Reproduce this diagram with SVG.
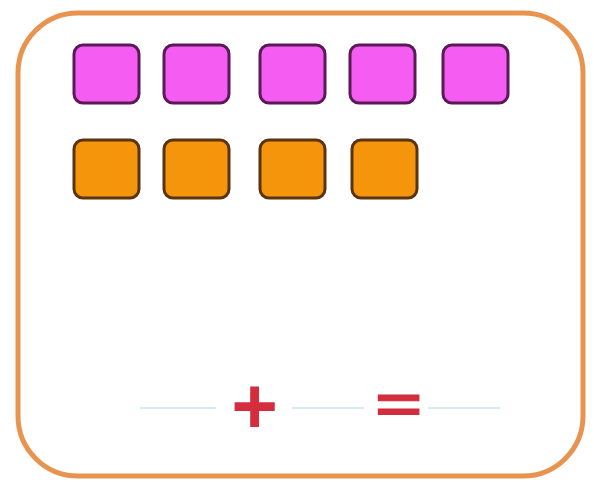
<svg xmlns="http://www.w3.org/2000/svg" width="594" height="488" viewBox="0 0 594 488">
  <style>
    .frame { fill: #ffffff; stroke: #E8944F; stroke-width: 5; }
    .pink { fill: #F55CF2; stroke: #5B1A57; stroke-width: 3; }
    .orange { fill: #F5950C; stroke: #5A3410; stroke-width: 3; }
    .blank { stroke: #C8E3EC; stroke-width: 1.5; }
    .op { font-family: "Liberation Sans", Arial, sans-serif; font-weight: bold; font-size: 80px; fill: #D32D3E; text-anchor: middle; }
  </style>
  <rect width="594" height="488" fill="#ffffff"/>
  <g id="frame">
    <rect class="frame" x="18" y="13" width="565" height="463" rx="60" ry="60"/>
  </g>
  <g id="pink-blocks">
    <rect id="p1" class="pink" x="74" y="45" width="65" height="58" rx="9"/>
    <rect id="p2" class="pink" x="164" y="45" width="65" height="58" rx="9"/>
    <rect id="p3" class="pink" x="260" y="45" width="65" height="58" rx="9"/>
    <rect id="p4" class="pink" x="350" y="45" width="65" height="58" rx="9"/>
    <rect id="p5" class="pink" x="443" y="45" width="65" height="58" rx="9"/>
  </g>
  <g id="orange-blocks">
    <rect id="o1" class="orange" x="74" y="140" width="65" height="58" rx="9"/>
    <rect id="o2" class="orange" x="164" y="140" width="65" height="58" rx="9"/>
    <rect id="o3" class="orange" x="260" y="140" width="65" height="58" rx="9"/>
    <rect id="o4" class="orange" x="352" y="140" width="65" height="58" rx="9"/>
  </g>
  <g id="blanks">
    <line class="blank" x1="140" y1="408" x2="216" y2="408"/>
    <line class="blank" x1="292" y1="408" x2="364" y2="408"/>
    <line class="blank" x1="428" y1="408" x2="500" y2="408"/>
  </g>
  <g id="operators">
    <text class="op" x="254.5" y="433">+</text>
    <text class="op" transform="translate(398.5 422) scale(1 0.65)" x="0" y="0" stroke="#D32D3E" stroke-width="1.5">=</text>
  </g>
</svg>
